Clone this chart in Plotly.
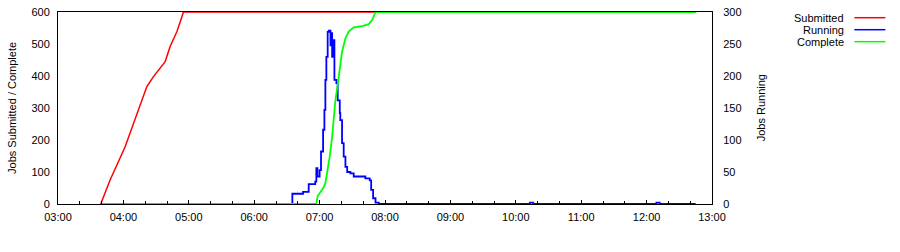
import plotly.graph_objects as go

DAY = "2000-01-01 "

# Submitted (left axis)
sub_t = ["03:39:12", "03:47:48", "04:01:36", "04:12:18", "04:21:30", "04:27:36",
         "04:33:42", "04:38:18", "04:42:54", "04:49:06", "04:52:42", "04:55:06", "12:45:00"]
sub_v = [0, 75, 179, 283, 367, 398, 424, 445, 492, 539, 575, 600, 600]

# Running (right axis)
run_t = ["03:39:00", "06:35:00", "06:44:48", "06:50:00", "06:56:00", "06:57:00", "06:58:00",
         "07:00:00", "07:01:18", "07:03:12", "07:04:24", "07:05:18", "07:06:12", "07:07:24",
         "07:08:24", "07:10:00", "07:10:36", "07:11:30", "07:12:24", "07:13:36", "07:15:24",
         "07:16:36", "07:18:30", "07:19:00", "07:20:36", "07:22:06", "07:23:42", "07:25:18",
         "07:28:18", "07:31:18", "07:35:54", "07:42:00", "07:46:00", "07:47:18", "07:49:06",
         "07:51:18", "07:54:18", "10:13:00", "10:16:00", "12:09:00", "12:12:00", "12:45:00"]
run_v = [0, 16, 19, 31, 35, 56, 43,
         53, 82, 116, 147, 194, 230, 269,
         271, 248, 267, 230, 256, 194, 189,
         162, 142, 131, 95, 74, 58, 50,
         48, 43, 43, 40, 37, 22, 9,
         2, 0, 2, 0, 2, 0, 0]

# Complete (left axis)
com_t = ["03:39:00", "06:57:00", "06:58:12", "07:00:42", "07:03:12", "07:05:18", "07:06:54",
         "07:09:18", "07:11:30", "07:13:00", "07:13:54", "07:14:30", "07:16:36", "07:18:30",
         "07:20:36", "07:23:42", "07:26:42", "07:31:18", "07:39:00", "07:45:06", "07:48:12",
         "07:51:18", "12:45:00"]
com_v = [0, 0, 25, 38, 49, 65, 96,
         148, 210, 262, 294, 325, 372, 419,
         476, 518, 539, 552, 556, 562, 575,
         600, 600]

left_ticks = [0, 100, 200, 300, 400, 500, 600]
right_ticks = [0, 50, 100, 150, 200, 250, 300]

names = ["Submitted", "Running", "Complete"]
colors = ["#ff0000", "#0000ff", "#00ff00"]

FONT = "Liberation Sans, Arial, Helvetica, sans-serif"

fig = go.Figure()
fig.add_trace(go.Scatter(x=[DAY + t for t in run_t], y=run_v, mode="lines",
                         line=dict(color=colors[1], width=1.8, shape="hv"),
                         yaxis="y", name=names[1]))
fig.add_trace(go.Scatter(x=[DAY + t for t in sub_t], y=sub_v, mode="lines",
                         line=dict(color=colors[0], width=1.5),
                         yaxis="y2", name=names[0]))
fig.add_trace(go.Scatter(x=[DAY + t for t in com_t], y=com_v, mode="lines",
                         line=dict(color=colors[2], width=1.8),
                         yaxis="y2", name=names[2]))

fig.update_layout(
    width=900, height=252,
    margin=dict(l=58, r=188, t=12, b=48),
    paper_bgcolor="white", plot_bgcolor="white",
    showlegend=False,
    font=dict(family=FONT, size=11, color="black"),
    xaxis=dict(
        type="date", automargin=False,
        range=[DAY + "03:00:00", DAY + "13:00:00"],
        tickformat="%H:%M", dtick=3600000,
        ticks="inside", ticklen=4, tickcolor="black",
        minor=dict(dtick=1200000, ticks="inside", ticklen=3, tickcolor="black"),
        showgrid=False, zeroline=False,
        showline=True, linecolor="black", linewidth=1, mirror=True,
        tickfont=dict(family=FONT, size=11, color="black"),
        ticklabelstandoff=3,
    ),
    yaxis=dict(
        side="right", range=[0, 300], tickvals=right_ticks, automargin=False,
        showgrid=False, zeroline=False, ticks="",
        showline=True, linecolor="black", linewidth=1,
        tickfont=dict(family=FONT, size=11, color="black"),
        ticklabelstandoff=8,
    ),
    yaxis2=dict(
        side="left", overlaying="y", anchor="x", range=[0, 600], tickvals=left_ticks,
        automargin=False,
        showgrid=False, zeroline=False, ticks="",
        showline=True, linecolor="black", linewidth=1,
        tickfont=dict(family=FONT, size=11, color="black"),
        ticklabelstandoff=5,
    ),
)

# Axis titles
fig.add_annotation(text="Jobs Submitted / Complete", xref="paper", yref="paper",
                   x=-0.0704, y=0.5, xanchor="center", yanchor="middle",
                   textangle=-90, showarrow=False,
                   font=dict(family=FONT, size=11, color="black"))
fig.add_annotation(text="Jobs Running", xref="paper", yref="paper",
                   x=1.0754, y=0.5, xanchor="center", yanchor="middle",
                   textangle=-90, showarrow=False,
                   font=dict(family=FONT, size=11, color="black"))

# Legend (text right-aligned, line sample on the right)
leg_y = [0.9703, 0.9078, 0.8453]
for nm, col, yy in zip(names, colors, leg_y):
    fig.add_annotation(text=nm, xref="paper", yref="paper", x=1.2055, y=yy,
                       xanchor="right", yanchor="middle", showarrow=False,
                       font=dict(family=FONT, size=11, color="black"))
    fig.add_shape(type="line", xref="paper", yref="paper", x0=1.2177, x1=1.2651,
                  y0=yy, y1=yy, line=dict(color=col, width=1.5))

fig.write_html("out.html")
